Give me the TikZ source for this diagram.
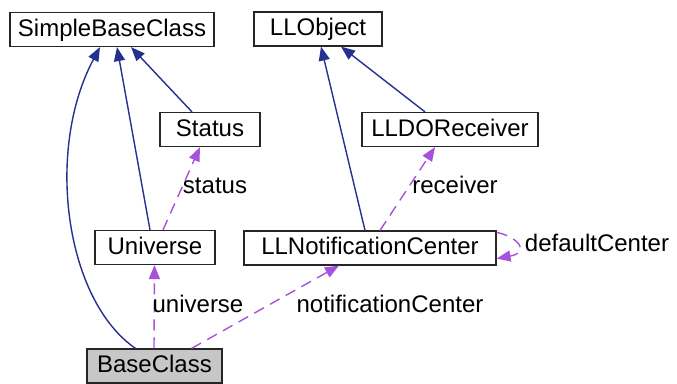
\documentclass[tikz,border=0pt]{standalone}
\usepackage{fontspec}
\setmainfont{Liberation Sans}
\usetikzlibrary{arrows.meta,calc}
\definecolor{inh}{HTML}{25308F}
\definecolor{use}{HTML}{A652DC}
\begin{document}
\begin{tikzpicture}[x=1pt,y=-1pt,
  txt/.style={font=\fontsize{24}{28}\selectfont, text height=16.5pt, text depth=3.5pt, inner sep=0pt},
  box/.style={txt, draw=black!85, line width=1.2pt, fill=white, minimum height=34pt, anchor=center},
  inhline/.style={draw=inh, line width=1.4pt, -{Triangle[length=14pt,width=11pt]}},
  useline/.style={draw=use, line width=1.4pt, dash pattern=on 11pt off 7pt, -{Triangle[length=14pt,width=11pt]}},
  lbl/.style={txt, anchor=center}]
\useasboundingbox (0,0) rectangle (677,383);
\node[box, minimum width=204pt] (SBC) at (112,29.5) {SimpleBaseClass};
\node[box, minimum width=128pt] (LLO) at (318,29) {LLObject};
\node[box, minimum width=100pt] (ST) at (210,129.5) {Status};
\node[box, minimum width=176pt] (LLD) at (450,129.5) {LLDOReceiver};
\node[box, minimum width=120pt] (UN) at (155,247.5) {Universe};
\node[box, minimum width=252pt] (LLN) at (370,248) {LLNotificationCenter};
\node[box, minimum width=135pt, fill=black!22] (BC) at (154.5,366) {BaseClass};
% inheritance
\draw[inhline] ([xshift=-19pt]BC.north) .. controls (65,300) and (45,150) .. ([xshift=-12pt]SBC.south);
\draw[inhline] ([xshift=-5pt]UN.north) -- ([xshift=5pt]SBC.south);
\draw[inhline] ([xshift=-18pt]ST.north) -- ([xshift=19pt]SBC.south);
\draw[inhline] ([xshift=-5pt]LLN.north) -- ([xshift=3pt]LLO.south);
\draw[inhline] ([xshift=-25pt]LLD.north) -- ([xshift=23pt]LLO.south);
% usage
\draw[useline] ([xshift=8pt]UN.north) -- ([xshift=-10pt]ST.south);
\node[lbl] (lstatus) at (215,187) {status};
\draw[useline] ([xshift=10pt]LLN.north) -- ([xshift=-15pt]LLD.south);
\node[lbl] (lrecv) at (455,187) {receiver};
\draw[useline] ([yshift=-2pt]LLN.north east) .. controls (516,236) and (532,252) .. ([yshift=7pt]LLN.south east);
\node[lbl] (ldef) at (597,245) {defaultCenter};
\draw[useline] ([xshift=-0.5pt]BC.north) -- (UN.south -| BC.north);
\node[lbl] (luni) at (198,306) {universe};
\draw[useline] ([xshift=37pt]BC.north) -- ([xshift=-31pt]LLN.south);
\node[lbl] (lnc) at (390,306) {notificationCenter};
\end{tikzpicture}
\end{document}
